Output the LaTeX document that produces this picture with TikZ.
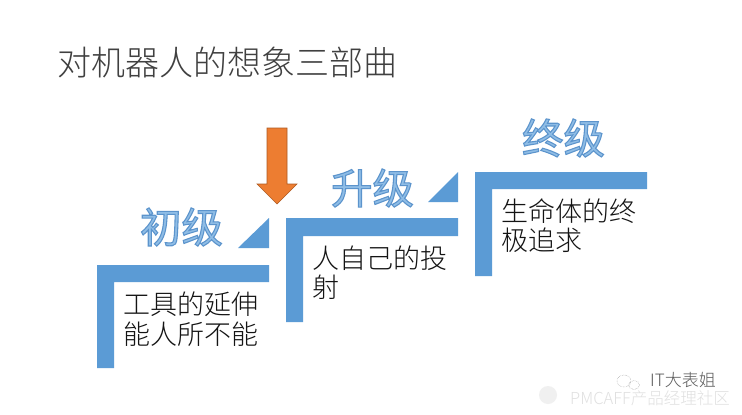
\documentclass[tikz,border=0pt]{standalone}
\usepackage{fontspec}
\setmainfont{Liberation Sans}
\newfontfamily\cjk{Noto Sans CJK SC Light}
\newfontfamily\cjkb{Noto Sans CJK SC}[FakeBold=2.6]
\definecolor{stepblue}{HTML}{5B9BD5}
\definecolor{arroworange}{HTML}{ED7D31}
\definecolor{arrowedge}{HTML}{AE5A21}
\definecolor{labelfill}{HTML}{8FBDE6}
\definecolor{titlegray}{HTML}{404040}
\newcommand{\leveloutline}{\special{pdf:code 0.36 0.58 0.80 RG}}
\tikzset{
  stepshape/.style={fill=stepblue,draw=none},
  bodytext/.style={anchor=west,inner sep=0pt,align=left,text=black!92,font={\cjk\fontsize{27}{29.5}\selectfont}},
  leveltext/.style={anchor=center,inner sep=0pt,text=labelfill,font={\cjkb\fontsize{41.5}{42}\selectfont}},
}
\begin{document}
\begin{tikzpicture}[x=1pt,y=-1pt]
\useasboundingbox (0,0) rectangle (742,415);
\fill[white] (0,0) rectangle (742,415);
\node[anchor=west,inner sep=0pt,text=titlegray,font={\cjk\fontsize{34}{36}\selectfont}] (title) at (57,62) {对机器人的想象三部曲};
% steps
\fill[stepshape] (97,265) -- (269,265) -- (269,282) -- (114,282) -- (114,368) -- (97,368) -- cycle;
\fill[stepshape] (238,248) -- (269,248) -- (269,218) -- cycle;
\fill[stepshape] (286,218) -- (458,218) -- (458,236) -- (303,236) -- (303,322) -- (286,322) -- cycle;
\fill[stepshape] (428,202) -- (458,202) -- (458,172) -- cycle;
\fill[stepshape] (475,172) -- (647,172) -- (647,189) -- (492,189) -- (492,276) -- (475,276) -- cycle;
% arrow
\filldraw[fill=arroworange,draw=arrowedge,line width=0.6pt] (267,128) -- (287,128) -- (287,184) -- (297,184) -- (277,204) -- (257,184) -- (267,184) -- cycle;
% levels
\node[leveltext] (chuji) at (181.5,227) {\leveloutline 初级};
\node[leveltext] (shengji) at (372.5,188) {\leveloutline 升级};
\node[leveltext] (zhongji) at (563.5,138) {\leveloutline 终级};
% body
\node[bodytext] (b1) at (123,319) {工具的延伸\\能人所不能};
\node[bodytext] (b2) at (312,272.5) {人自己的投\\射};
\node[bodytext] (b3) at (501,225.5) {生命体的终\\极追求};
% watermark
\fill[black!6] (548,395) circle (9);
\draw[black!35,line width=0.5pt,densely dotted] (624,381) ellipse (7 and 6) (634,385) ellipse (5.5 and 4.5);
\node[anchor=west,inner sep=0pt,text=black!12,font={\cjk\fontsize{16.5}{17}\selectfont}] (pm) at (570,398) {PMCAFF产品经理社区};
\node[anchor=west,inner sep=0pt,text=black!65,font={\cjk\fontsize{17}{18}\selectfont}] (it) at (650,380) {IT大表姐};
\end{tikzpicture}
\end{document}
